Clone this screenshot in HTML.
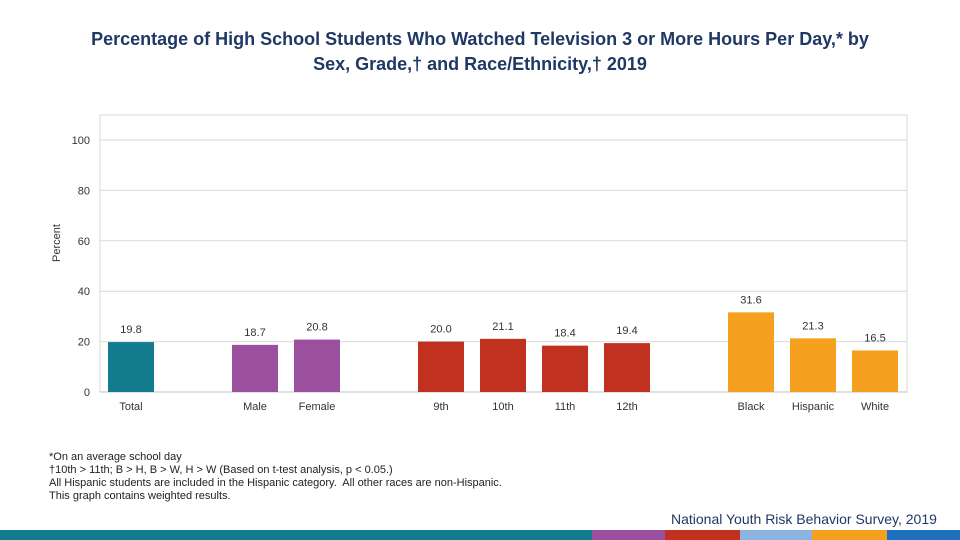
<!DOCTYPE html>
<html><head><meta charset="utf-8"><style>
body{margin:0;width:960px;height:540px;background:#fff;font-family:"Liberation Sans",sans-serif;overflow:hidden;position:relative}
.t{position:absolute;left:0;width:960px;text-align:center;font-weight:bold;font-size:18px;color:#1f3864;line-height:25px;top:27px}
.fn{position:absolute;left:49px;top:451px;font-size:11px;line-height:13px;color:#222}
.src{position:absolute;left:671px;top:511px;font-size:14px;color:#1f3864}
</style></head><body>
<div class="t">Percentage of High School Students Who Watched Television 3 or More Hours Per Day,* by<br>Sex, Grade,† and Race/Ethnicity,† 2019</div>
<svg id="c" width="960" height="540" style="position:absolute;left:0;top:0"></svg>
<div class="fn">*On an average school day<br>†10th &gt; 11th; B &gt; H, B &gt; W, H &gt; W (Based on t-test analysis, p &lt; 0.05.)<br>All Hispanic students are included in the Hispanic category.&nbsp; All other races are non-Hispanic.<br>This graph contains weighted results.</div>
<div class="src">National Youth Risk Behavior Survey, 2019</div>
<script>
const categories=["Total","Male","Female","9th","10th","11th","12th","Black","Hispanic","White"];
const values=[19.8,18.7,20.8,20.0,21.1,18.4,19.4,31.6,21.3,16.5];
const slots=[0,2,3,5,6,7,8,10,11,12];
const groups=["total","sex","sex","grade","grade","grade","grade","race","race","race"];
const ticks=[0,20,40,60,80,100];
const colors={total:"#127b8d",sex:"#9b4f9f",grade:"#c0321f",race:"#f5a11f"};
const NS="http://www.w3.org/2000/svg",svg=document.getElementById('c');
const x0=100,x1=907,yTop=115,yB=392,slotW=62;
const y=v=>yB-v*2.52, xc=s=>x0+31+s*slotW;
function mk(t,a,txt){const e=document.createElementNS(NS,t);for(const k in a)e.setAttribute(k,a[k]);if(txt!=null)e.textContent=txt;svg.appendChild(e);return e;}
let r=mk('rect',{x:x0,y:yTop,width:x1-x0,height:yB-yTop,fill:'none',stroke:'#d9d9d9'});


ticks.forEach(t=>{
 let l=mk('line',{x1:x0,x2:x1,y1:y(t),y2:y(t),stroke:t?'#d9d9d9':'#bfbfbf'});
 
 
 let tx=mk('text',{x:90,y:y(t)+4,'text-anchor':'end','font-size':11,fill:'#333'},t);
 
 
});
let yt=mk('text',{x:60,y:243,'text-anchor':'middle','font-size':11,fill:'#333',transform:'rotate(-90 60 243)'},'Percent');


values.forEach((v,i)=>{
 const cx=xc(slots[i]);
 let b=mk('rect',{x:cx-23,y:y(v),width:46,height:yB-y(v),fill:colors[groups[i]]});
 
 
 let lb=mk('text',{x:cx,y:y(v)-9,'text-anchor':'middle','font-size':11,fill:'#333'},v.toFixed(1));
 
 
 let cl=mk('text',{x:cx,y:410,'text-anchor':'middle','font-size':11,fill:'#333'},categories[i]);
 
 
});
[[0,592,'#127b8d'],[592,665,'#9b4f9f'],[665,740,'#c0321f'],[740,812,'#8db3e2'],[812,887,'#f5a11f'],[887,960,'#1f6fbf']].forEach((s,i)=>{
 let st=mk('rect',{x:s[0],y:530,width:s[1]-s[0],height:10,fill:s[2]});
 
 
});
</script>
</body></html>
